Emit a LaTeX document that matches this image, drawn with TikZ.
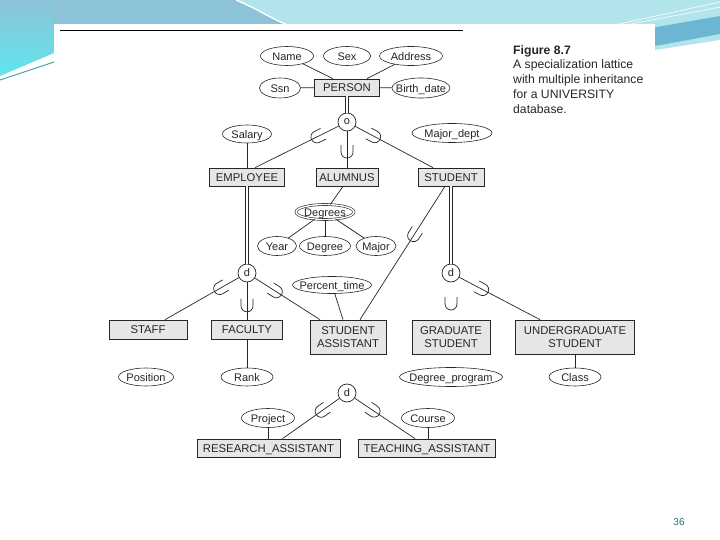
\documentclass[tikz,border=0pt]{standalone}
\usepackage{fontspec}
\setmainfont{Liberation Sans}
\usetikzlibrary{calc,shapes.geometric}
\definecolor{hdrtop}{HTML}{8CC3D8}
\definecolor{hdrcyan}{HTML}{5EE6EE}
\definecolor{hdrlight}{HTML}{B2E4EC}
\definecolor{hdrmid}{HTML}{6CB6D4}
\definecolor{boxgray}{HTML}{E6E6E6}
\definecolor{numcol}{HTML}{2E6E78}
\definecolor{ink}{HTML}{262626}
\newcommand\zwbox[1]{\makebox[0pt][c]{#1}}
\begin{document}
\begin{tikzpicture}[x=1pt,y=-1pt,
  ent/.style={rectangle, draw=ink, fill=boxgray, line width=0.7pt, inner sep=0pt, text=ink,
    font=\fontsize{11.3}{13}\selectfont, align=center},
  entone/.style={ent, text height=8.6pt, text depth=0pt},
  att/.style={ellipse, draw=ink, line width=0.6pt, inner sep=0pt, text=ink,
    font=\fontsize{11}{12}\selectfont, text height=8.4pt, text depth=0pt},
  mvatt/.style={att, double, double distance=1.4pt},
  circ/.style={circle, draw=ink, line width=0.7pt, fill=white, minimum size=18pt, inner sep=0pt,
    text=ink, font=\fontsize{11}{12}\selectfont},
  conn/.style={draw=ink, line width=0.7pt},
  dbl/.style={draw=ink, line width=0.75pt, double=white, double distance=2.2pt},
  subs/.pic={\draw[ink, line width=0.7pt] (-7,6) -- (0,6) arc[start angle=90,end angle=-90,radius=6] -- (-7,-6);},
  su/.style={sloped, allow upside down},
]
\useasboundingbox (0,0) rectangle (720,540);
\fill[white] (0,0) rectangle (720,540);
% header decoration
\fill[hdrtop] (0,0) rectangle (720,26);
\shade[top color=hdrtop, bottom color=hdrcyan] (0,0) -- (54,0) -- (54,53) -- (0,76) -- cycle;
\fill[hdrlight] (238,0) .. controls (258,8) and (272,18) .. (292,26) -- (720,26) -- (720,0) -- cycle;
\draw[white, line width=1.5pt] (236,0) .. controls (256,8) and (270,18) .. (290,26);
\fill[hdrlight] (640,24) -- (720,10) -- (720,40) -- (655,50) -- cycle;
\fill[hdrmid] (640,30) -- (720,16) -- (720,34) -- (655,46) -- cycle;
\draw[white, line width=0.6pt] (610,26) -- (720,2);
\draw[white, line width=0.6pt] (615,27) -- (720,7);
\draw[teal!60!hdrtop, line width=0.8pt] (0,80) -- (54,62);
\fill[white] (54,24) rectangle (655,475);
\draw[black, line width=1.2pt] (60,30.5) -- (463,30.5);

% caption
\node[anchor=north west, align=left, inner sep=0pt, text=ink, font=\fontsize{12.2}{14.8}\selectfont] (cap) at (513,45)
  {\textbf{Figure 8.7}\\A specialization lattice\\with multiple inheritance\\for a UNIVERSITY\\database.};
\node[text=numcol, font=\fontsize{10}{12}\selectfont] (num) at (679,522) {36};

% entities
\node[entone, minimum width=65pt, minimum height=17pt] (person) at (347,87.5) {PERSON};
\node[entone, minimum width=75pt, minimum height=18pt] (emp) at (247,177) {EMPLOYEE};
\node[entone, minimum width=62pt, minimum height=18pt] (alum) at (347,177) {ALUMNUS};
\node[entone, minimum width=66pt, minimum height=18pt] (stud) at (451,177) {STUDENT};
\node[entone, minimum width=78pt, minimum height=19pt] (staff) at (148,329.5) {STAFF};
\node[entone, minimum width=71pt, minimum height=19pt] (fac) at (247,329.5) {FACULTY};
\node[ent, minimum width=76pt, minimum height=34pt] (sa) at (348,337) {STUDENT\\ASSISTANT};
\node[ent, minimum width=78pt, minimum height=34pt] (grad) at (451,337) {GRADUATE\\STUDENT};
\node[ent, minimum width=119pt, minimum height=34pt] (ugrad) at (575,337) {UNDERGRADUATE\\STUDENT};
\node[entone, minimum width=143pt, minimum height=18pt] (ra) at (268.5,448) {RESEARCH\_ASSISTANT};
\node[entone, minimum width=137pt, minimum height=18pt] (ta) at (427,448) {TEACHING\_ASSISTANT};

% attributes
\node[att, minimum width=53pt, minimum height=19pt] (name) at (287,56) {\zwbox{Name}};
\node[att, minimum width=47pt, minimum height=19pt] (sex) at (347,56) {\zwbox{Sex}};
\node[att, minimum width=63pt, minimum height=19pt] (address) at (411,56) {\zwbox{Address}};
\node[att, minimum width=41pt, minimum height=20pt] (ssn) at (280,88) {\zwbox{Ssn}};
\node[att, minimum width=58pt, minimum height=20pt] (bdate) at (421,88) {\zwbox{Birth\_date}};
\node[att, minimum width=49pt, minimum height=18pt] (salary) at (247,134) {\zwbox{Salary}};
\node[att, minimum width=80pt, minimum height=19pt] (mdept) at (452,133) {\zwbox{Major\_dept}};
\node[mvatt, minimum width=58pt, minimum height=15pt] (degrees) at (325,212) {\zwbox{Degrees}};
\node[att, minimum width=39pt, minimum height=19pt] (year) at (277,246) {\zwbox{Year}};
\node[att, minimum width=51pt, minimum height=19pt] (degree) at (325,246) {\zwbox{Degree}};
\node[att, minimum width=40pt, minimum height=19pt] (major) at (376,246) {\zwbox{Major}};
\node[att, minimum width=79pt, minimum height=17pt] (ptime) at (332,285) {\zwbox{Percent\_time}};
\node[att, minimum width=55pt, minimum height=18pt] (position) at (146,377) {\zwbox{Position}};
\node[att, minimum width=52pt, minimum height=18pt] (rank) at (247,377) {\zwbox{Rank}};
\node[att, minimum width=103pt, minimum height=19pt] (dprog) at (451,377) {\zwbox{Degree\_program}};
\node[att, minimum width=52pt, minimum height=18pt] (class) at (575,377) {\zwbox{Class}};
\node[att, minimum width=53pt, minimum height=19pt] (project) at (268,418) {\zwbox{Project}};
\node[att, minimum width=53pt, minimum height=19pt] (course) at (428,418) {\zwbox{Course}};

% specialization circles
\node[circ] (o) at (347,122) {o};
\node[circ] (d1) at (247,273) {d};
\node[circ] (d2) at (451,273) {d};
\node[circ] (d3) at (347,393) {d};

% connectors
\draw[conn] (name) -- ($(person.north)+(-14,0)$);
\draw[conn] (address) -- ($(person.north)+(20,0)$);
\draw[conn] (ssn) -- (person);
\draw[conn] (bdate) -- (person);
\draw[dbl] (person) -- (o);
\draw[conn] (o) -- ($(emp.north)+(8,0)$) pic[pos=0.26, su]{subs};
\draw[conn] (o) -- (alum) pic[pos=0.57, su]{subs};
\draw[conn] (o) -- ($(stud.north)+(-18,0)$) pic[pos=0.25, su]{subs};
\draw[conn] (salary) -- (emp);
\draw[conn] ($(alum.south)+(-4,0)$) -- (degrees);
\draw[conn] (degrees) -- (year);
\draw[conn] (degrees) -- (degree);
\draw[conn] (degrees) -- (major);
\draw[dbl] (emp) -- (d1);
\draw[conn] (d1) -- ($(staff.north)+(17,0)$) pic[pos=0.26, su]{subs};
\draw[conn] (d1) -- (fac) pic[pos=0.63, su]{subs};
\draw[conn] (d1) -- ($(sa.north)+(-28,0)$) pic[pos=0.33, su]{subs};
\draw[conn] (ptime) -- ($(sa.north)+(-5,0)$);
\draw[conn] ($(stud.south)+(-6,0)$) -- ($(sa.north)+(12,0)$) pic[pos=0.37, su]{subs};
\draw[dbl] (stud) -- (d2);
\draw[conn] (d2) -- ($(ugrad.north)+(-35,0)$) pic[pos=0.29, su]{subs};
\pic[rotate=-90] at (451,304) {subs};
\draw[conn] (fac) -- (rank);
\draw[conn] (ugrad) -- (class);
\draw[conn] (d3) -- ($(ra.north)+(14,0)$) pic[pos=0.32, su]{subs};
\draw[conn] (d3) -- ($(ta.north)+(-12,0)$) pic[pos=0.32, su]{subs};
\draw[conn] (project) -- (project |- ra.north);
\draw[conn] (course) -- (course |- ta.north);
\end{tikzpicture}
\end{document}
